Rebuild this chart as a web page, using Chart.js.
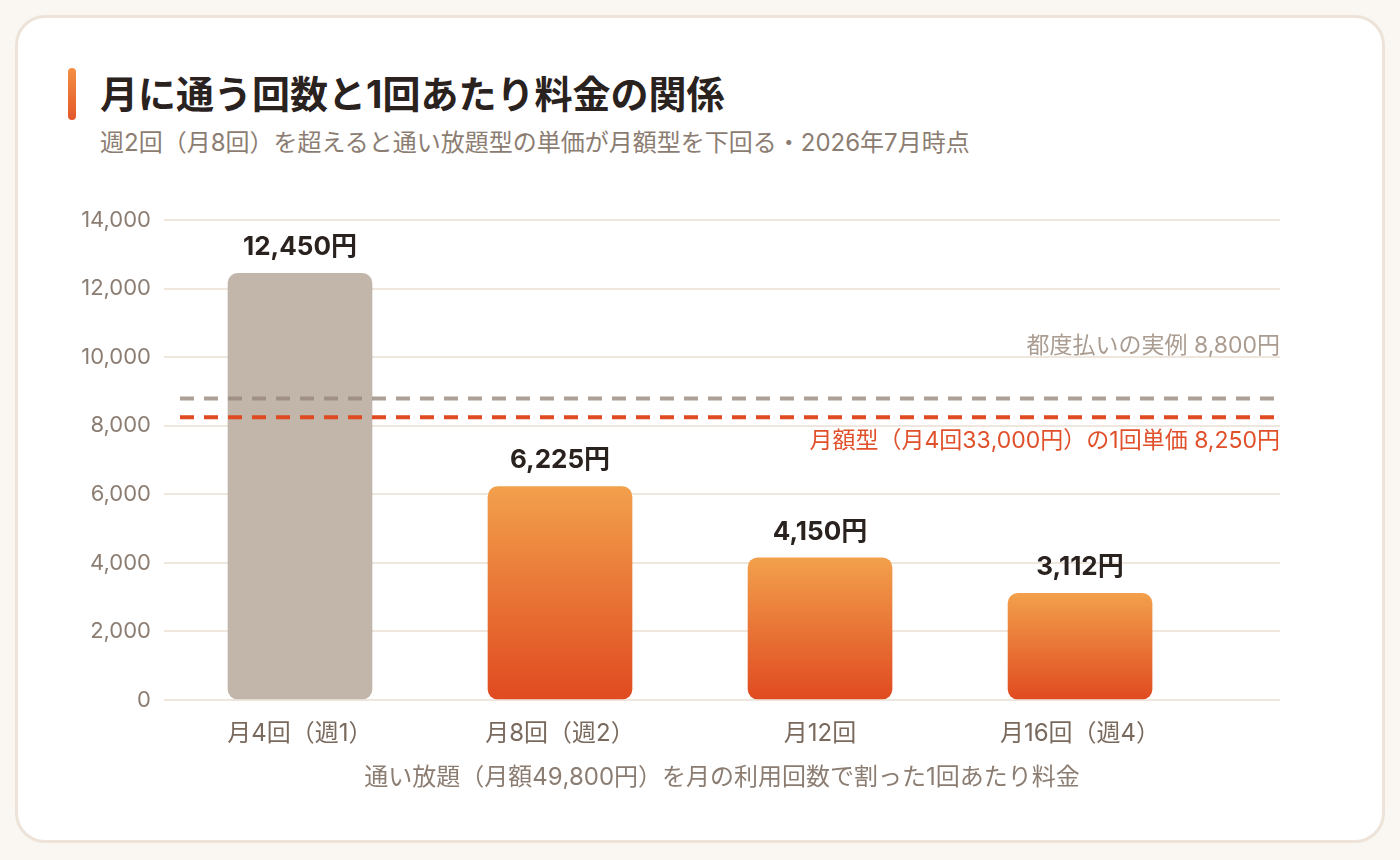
<!DOCTYPE html>
<html lang="ja">
<head>
<meta charset="utf-8">
<script src="https://cdn.jsdelivr.net/npm/chart.js@4.4.1/dist/chart.umd.min.js"></script>
<style>
  html, body { margin: 0; padding: 0; background: #faf6f1; }
  body { width: 1400px; height: 860px; position: relative; overflow: hidden;
         font-family: Inter, "Noto Sans CJK JP", sans-serif; }
  .card { position: absolute; left: 15px; top: 15px; width: 1364px; height: 822px;
          background: #fff; border: 3px solid #ede3d8; border-radius: 30px; }
  .accent { position: absolute; left: 68px; top: 68px; width: 8px; height: 52px; border-radius: 4px;
            background: linear-gradient(#f39044, #e4572a); }
  .title { position: absolute; left: 100px; top: 70px; font-size: 38px; font-weight: 700;
           color: #2a221e; line-height: 48px; white-space: nowrap; }
  .subtitle { position: absolute; left: 100px; top: 128px; font-size: 24px; color: #8c7d72;
              line-height: 30px; white-space: nowrap; }
  .wrap { position: absolute; left: 40px; top: 194px; width: 1300px; height: 616px; }
</style>
</head>
<body>
<div class="card"></div>
<div class="accent"></div>
<div class="title">月に通う回数と1回あたり料金の関係</div>
<div class="subtitle">週2回（月8回）を超えると通い放題型の単価が月額型を下回る・2026年7月時点</div>
<div class="wrap"><canvas id="mainChart"></canvas></div>
<script>
const categories = ["月4回（週1）", "月8回（週2）", "月12回", "月16回（週4）"];
const unitPrices = [12450, 6225, 4150, 3112];
const priceLabels = ["12,450円", "6,225円", "4,150円", "3,112円"];
const yTickValues = [0, 2000, 4000, 6000, 8000, 10000, 12000, 14000];
const refValues = [8800, 8250];
const refLabels = ["都度払いの実例 8,800円", "月額型（月4回33,000円）の1回単価 8,250円"];
const xTitle = "通い放題（月額49,800円）を月の利用回数で割った1回あたり料金";

const FONT = 'Inter, "Noto Sans CJK JP", sans-serif';

// bars above the monthly per-visit price are grey, the rest orange
function barColor(ctx) {
  const v = unitPrices[ctx.dataIndex];
  if (v > refValues[1]) return "#c2b5aa";
  const chart = ctx.chart;
  const ys = chart.scales.y;
  if (!chart.chartArea || !ys) return "#ec7a35";
  const top = ys.getPixelForValue(v);
  const bottom = ys.getPixelForValue(0);
  const g = chart.ctx.createLinearGradient(0, top, 0, bottom);
  g.addColorStop(0, "#f2a04c");
  g.addColorStop(1, "#e04a20");
  return g;
}

const refLines = {
  id: "refLines",
  afterDatasetsDraw(chart) {
    const { ctx, chartArea, scales } = chart;
    const styles = [
      { color: "rgba(150,135,122,0.78)", text: "#aa9c90", dy: -52 },
      { color: "#e04a22", text: "#e0502a", dy: 24 }
    ];
    ctx.save();
    refValues.forEach((v, i) => {
      const y = scales.y.getPixelForValue(v);
      ctx.beginPath();
      ctx.setLineDash([14, 10]);
      ctx.lineWidth = 4;
      ctx.strokeStyle = styles[i].color;
      ctx.moveTo(chartArea.left + 16, y);
      ctx.lineTo(chartArea.right, y);
      ctx.stroke();
      ctx.setLineDash([]);
      ctx.font = "23px " + FONT;
      ctx.fillStyle = styles[i].text;
      ctx.textAlign = "right";
      ctx.textBaseline = "middle";
      ctx.fillText(refLabels[i], chartArea.right, y + styles[i].dy);
    });
    // value labels above the bars
    const meta = chart.getDatasetMeta(0);
    ctx.font = "bold 26px " + FONT;
    ctx.fillStyle = "#2a221e";
    ctx.textAlign = "center";
    meta.data.forEach((el, i) => {
      ctx.fillText(priceLabels[i], el.x, el.y - 26);
    });
    ctx.restore();
  }
};

new Chart("mainChart", {
  type: "bar",
  data: {
    datasets: [{
      data: unitPrices.map((v, i) => ({ x: i, y: v })),
      backgroundColor: barColor,
      borderRadius: 10,
      borderSkipped: false,
      barThickness: 144
    }]
  },
  options: {
    responsive: true,
    maintainAspectRatio: false,
    animation: false,
    layout: { padding: { top: 0, right: 60, left: 0, bottom: 0 } },
    plugins: { legend: { display: false }, tooltip: { enabled: false } },
    scales: {
      x: {
        type: "linear",
        offset: false,
        min: -0.523,
        max: 3.769,
        afterBuildTicks: s => { s.ticks = categories.map((c, i) => ({ value: i })); },
        afterFit: s => { s.height = 110; },
        grid: { display: false },
        border: { display: false },
        ticks: {
          padding: 11,
          color: "#7a6a5e",
          font: { family: FONT, size: 24 },
          callback: v => categories[v]
        },
        title: {
          display: true,
          text: xTitle,
          color: "#8c7d72",
          font: { family: FONT, size: 24 },
          padding: { top: 0, bottom: 18 }
        }
      },
      y: {
        min: 0,
        max: 14000,
        afterBuildTicks: s => { s.ticks = yTickValues.map(v => ({ value: v })); },
        afterFit: s => { s.width = 124; },
        grid: { color: "#efe7dd", lineWidth: 2, drawTicks: false },
        border: { display: false },
        ticks: {
          padding: 13,
          color: "#8c7d72",
          font: { family: FONT, size: 22 },
          callback: v => v.toLocaleString("en-US")
        }
      }
    }
  },
  plugins: [refLines]
});
</script>
</body>
</html>
